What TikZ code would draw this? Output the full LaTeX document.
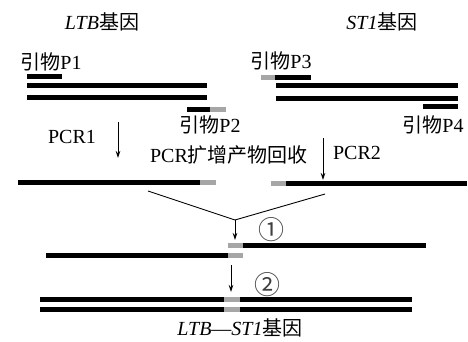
\documentclass[tikz,border=0pt]{standalone}
\usepackage{fontspec}
\setmainfont{Liberation Serif}
\newfontfamily\cjk{Noto Sans CJK SC}
\usetikzlibrary{arrows.meta}
\begin{document}
\begin{tikzpicture}[x=1pt,y=-1pt,
  strand/.style={line width=5pt,draw=black},
  tag/.style={line width=5pt,draw=black!35},
  lbl/.style={font=\fontsize{20}{23}\selectfont,inner sep=0pt},
  circ/.style={font=\fontsize{26}{28}\selectfont\cjk,inner sep=0pt,text=black!75},
  thin/.style={line width=0.9pt},
  arr/.style={thin,-{Stealth[length=7pt,width=4.5pt]}}]
\useasboundingbox (0,0) rectangle (468,342);
% titles
\node[lbl] (ltb) at (102,22) {\textit{LTB}{\cjk 基因}};
\node[lbl] (st1) at (382,22) {\textit{ST1}{\cjk 基因}};
% LTB gene with primers
\node[lbl] (p1) at (51,62) {{\cjk 引物}P1};
\draw[strand] (27,77) -- (62,77);
\draw[strand] (27,86) -- (207,86);
\draw[strand] (27,98) -- (207,98);
\draw[strand] (187,110) -- (210,110);
\draw[tag] (210,110) -- (226,110);
\node[lbl] (p2) at (210,125) {{\cjk 引物}P2};
% ST1 gene with primers
\node[lbl] (p3) at (281,61) {{\cjk 引物}P3};
\draw[tag] (261,78) -- (275,78);
\draw[strand] (275,78) -- (311,78);
\draw[strand] (276,86) -- (458,86);
\draw[strand] (276,99) -- (458,99);
\draw[strand] (423,107) -- (458,107);
\node[lbl] (p4) at (433,125) {{\cjk 引物}P4};
% PCR steps
\node[lbl] (pcr1) at (72,137) {PCR1};
\coordinate (a1s) at (118,122);
\coordinate (a1e) at (118,158);
\draw[arr] (a1s) -- (a1e);
\node[lbl] (rec) at (229,155) {PCR{\cjk 扩增产物回收}};
\node[lbl] (pcr2) at (357,153) {PCR2};
\coordinate (a2s) at (323,138);
\coordinate (a2e) at (323,180);
\draw[arr] (a2s) -- (a2e);
% PCR products
\draw[strand] (18,182) -- (200,182);
\draw[tag] (200,182) -- (216,182);
\draw[tag] (271,183) -- (286,183);
\draw[strand] (286,183) -- (467,183);
% joining lines
\coordinate (vl) at (148,191);
\coordinate (vr) at (325,194);
\coordinate (vx) at (235,220);
\coordinate (vd) at (235,240);
\draw[thin] (vl) -- (vx) -- (vr);
\draw[arr] (vx) -- (vd);
\node[circ] (c1) at (271,230) {①};
% annealed strands
\draw[tag] (228,245) -- (243,245);
\draw[strand] (243,245) -- (426,245);
\draw[strand] (46,255) -- (228,255);
\draw[tag] (228,255) -- (243,255);
% extension
\coordinate (b1) at (231,265);
\coordinate (b2) at (231,292);
\draw[arr] (b1) -- (b2);
\node[circ] (c2) at (267,285) {②};
% fused gene
\foreach \yy in {299,309}{
  \draw[strand] (40,\yy) -- (224,\yy);
  \draw[tag] (224,\yy) -- (240,\yy);
  \draw[strand] (240,\yy) -- (412,\yy);
}
\node[lbl] (fus) at (240,328) {\textit{LTB}—\textit{ST1}{\cjk 基因}};
\end{tikzpicture}
\end{document}
